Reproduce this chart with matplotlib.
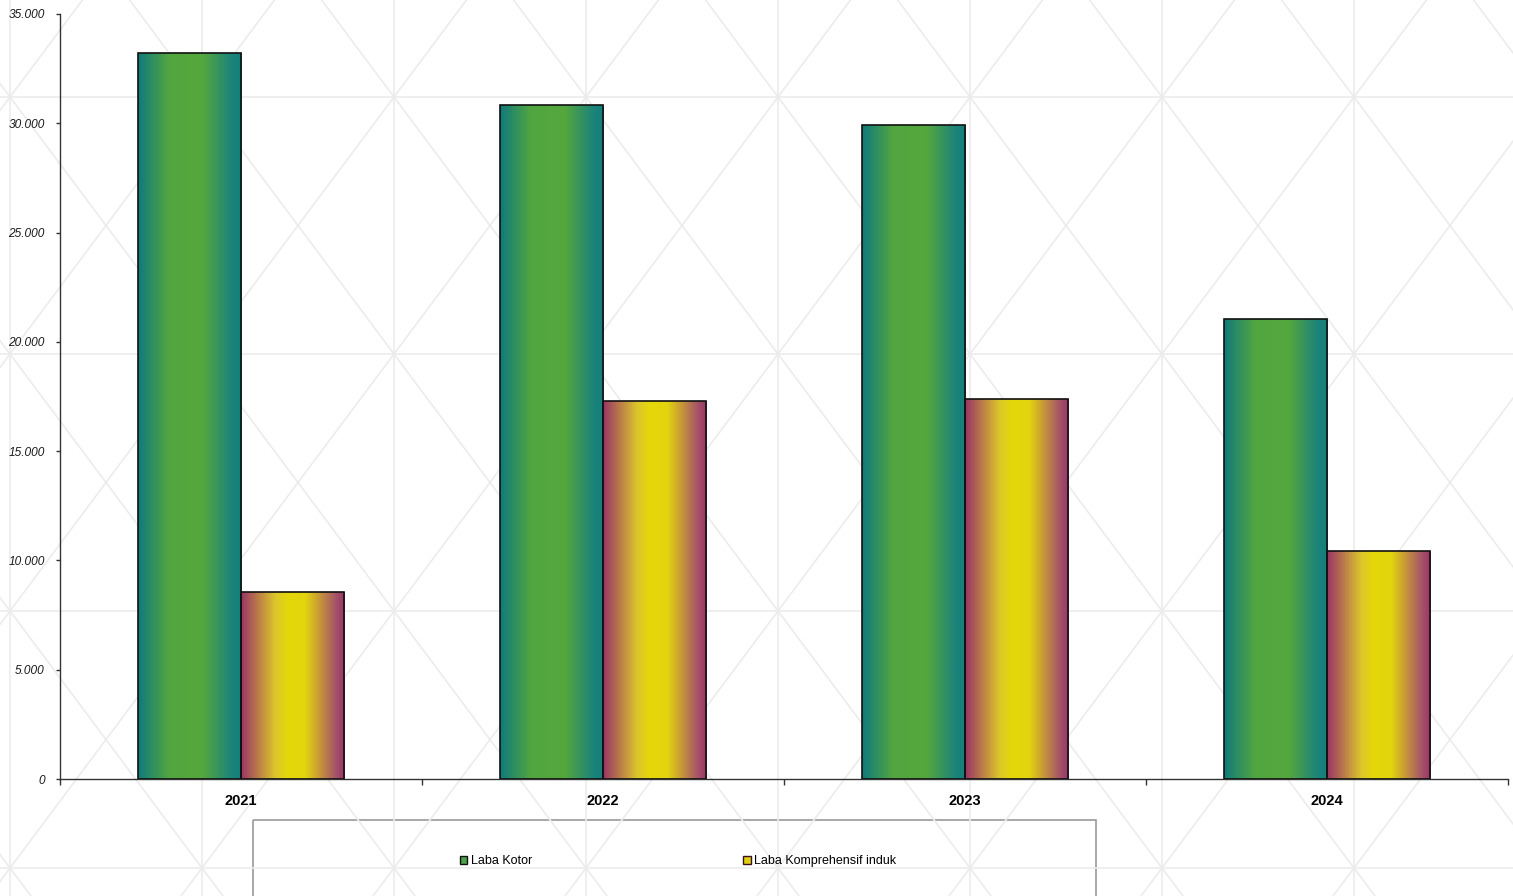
import numpy as np
import matplotlib
matplotlib.use("Agg")
import matplotlib.pyplot as plt
from matplotlib.patches import Patch, Rectangle
from matplotlib.colors import LinearSegmentedColormap
from matplotlib.ticker import FuncFormatter, FixedLocator

# data
years = ["2021", "2022", "2023", "2024"]
laba_kotor = [33200, 30840, 29920, 21050]
laba_komprehensif = [8550, 17290, 17390, 10430]
series_names = ["Laba Kotor", "Laba Komprehensif induk"]
y_ticks = [0, 5000, 10000, 15000, 20000, 25000, 30000, 35000]

W, H = 1513, 896
plt.rcParams["font.family"] = ["Liberation Sans", "DejaVu Sans"]

fig = plt.figure(figsize=(W / 100, H / 100), dpi=100)

# sfondo con pattern a triangoli (coordinate in pixel)
bg = fig.add_axes([0, 0, 1, 1], zorder=-5)
bg.set_xlim(0, W)
bg.set_ylim(H, 0)
bg.axis("off")
line_col = "#ececec"
s = 128.5 / 96
for x in np.arange(10, W + 200, 192):
    bg.plot([x, x], [0, H], color=line_col, lw=1.2)
for y in np.arange(97 - 257, H + 257, 257):
    bg.plot([0, W], [y, y], color=line_col, lw=1.2)
xs = np.array([-2000, W + 2000])
for k in range(-20, 30):
    x0 = 10 + 192 * k
    bg.plot(xs, 97 + s * (xs - x0), color=line_col, lw=1.2)
    bg.plot(xs, 97 - s * (xs - x0), color=line_col, lw=1.2)

# riquadro legenda (tagliato in basso)
bg.add_patch(Rectangle((253, 820), 1096 - 253, 120, fill=False, edgecolor="#999999", lw=1.2))

ax = fig.add_axes([60 / W, 1 - 779 / H, (1508 - 60) / W, (779 - 14) / H])
ax.set_facecolor("none")

green_cmap = LinearSegmentedColormap.from_list(
    "g", [(0, "#107a7c"), (0.3, "#52a640"), (0.62, "#55a83c"), (0.9, "#1c837a"), (1, "#147e7a")])
yellow_cmap = LinearSegmentedColormap.from_list(
    "y", [(0, "#9a3466"), (0.33, "#dcc62c"), (0.45, "#e4d80a"), (0.62, "#e2d40e"), (0.92, "#a5506a"), (1, "#9a3466")])

x = np.arange(len(years))
bw = 0.285
b1 = ax.bar(x - bw / 2, laba_kotor, bw, facecolor="none", edgecolor="#111111", lw=1.2, zorder=3)
b2 = ax.bar(x + bw / 2, laba_komprehensif, bw, facecolor="none", edgecolor="#111111", lw=1.2, zorder=3)

grad = np.linspace(0, 1, 256).reshape(1, -1)
for bars, cmap in [(b1, green_cmap), (b2, yellow_cmap)]:
    for r in bars:
        x0, y0 = r.get_x(), r.get_y()
        im = ax.imshow(grad, cmap=cmap, aspect="auto", zorder=2,
                       extent=[x0, x0 + r.get_width(), y0, y0 + r.get_height()])
        im.set_clip_path(r)

ax.set_xlim(-0.5, len(years) - 0.5)
ax.set_ylim(0, 35000)
ax.set_xticks(x)
ax.set_xticklabels(years, fontsize=10.5, fontweight="bold")
ax.xaxis.set_minor_locator(FixedLocator(np.arange(len(years) + 1) - 0.5))
ax.tick_params(axis="x", which="major", length=0, pad=11)
ax.tick_params(axis="x", which="minor", length=4, width=1, color="#333333")
ax.set_yticks(y_ticks)
ax.yaxis.set_major_formatter(FuncFormatter(lambda v, p: f"{int(v):,}".replace(",", ".")))
ax.tick_params(axis="y", length=3, width=1, color="#333333", pad=8, labelsize=8.6)
for lab in ax.get_yticklabels():
    lab.set_fontstyle("italic")
    lab.set_color("#1a1a1a")

for sp in ["top", "right"]:
    ax.spines[sp].set_visible(False)
for sp in ["left", "bottom"]:
    ax.spines[sp].set_color("#333333")
    ax.spines[sp].set_linewidth(1)

handles = [Patch(facecolor="#4aa046", edgecolor="#111111", lw=1),
           Patch(facecolor="#e0cf10", edgecolor="#3a1020", lw=1)]
fig.legend(handles, series_names, loc="center", bbox_to_anchor=(0.448, 1 - 861 / H),
           ncol=2, frameon=False, fontsize=9, handlelength=0.6, handleheight=0.6,
           handletextpad=0.25, columnspacing=16.9)

fig.savefig("out.png", dpi=100)
